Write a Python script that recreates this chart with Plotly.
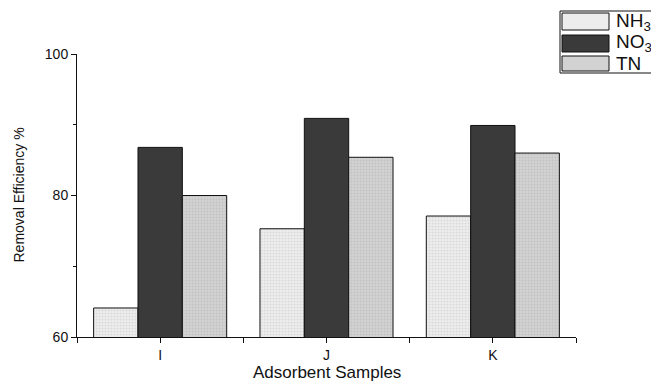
import plotly.graph_objects as go

categories = ["I", "J", "K"]
series_names = ["NH<sub>3</sub>", "NO<sub>3</sub>", "TN"]
nh3_values = [64.1, 75.3, 77.1]
no3_values = [86.8, 90.9, 89.9]
tn_values = [80.0, 85.4, 86.0]
y_ticks = [60, 80, 100]
x_title = "Adsorbent Samples"
y_title = "Removal Efficiency %"

series_values = [nh3_values, no3_values, tn_values]
fills = ["#ececec", "#3a3a3a", "#d2d2d2"]
pattern_shapes = [".", "", "+"]
pattern_fg = ["#d6d6d6", "#2e2e2e", "#bdbdbd"]

W, H = 651, 381
L, R, T, B = 77, 576, 54, 337

def px_x(p):
    return (p - L) / (R - L)

def px_y(p):
    return (B - p) / (B - T)

fig = go.Figure()
xs = list(range(len(categories)))
for name, vals, col, shp, fg in zip(series_names, series_values, fills, pattern_shapes, pattern_fg):
    fig.add_trace(go.Bar(
        x=xs, y=vals, name=name, showlegend=False, hoverinfo="skip",
        marker=dict(color=col, line=dict(color="#111111", width=1),
                    pattern=dict(shape=shp, size=3, solidity=0.25, fgcolor=fg, bgcolor=col, fillmode="replace") if shp else None),
    ))

tickvals = []
ticktext = []
for i, c in enumerate(categories):
    tickvals += [i - 0.5, i]
    ticktext += ["", c]
tickvals.append(len(categories) - 0.5)
ticktext.append("")

font_family = "Liberation Sans, Arial, sans-serif"
black = "#111111"

fig.update_layout(
    width=W, height=H,
    margin=dict(l=L, r=W - R, t=T, b=H - B, autoexpand=False),
    paper_bgcolor="white", plot_bgcolor="white",
    barmode="group", bargap=0.2, bargroupgap=0,
    font=dict(family=font_family, color=black),
    xaxis=dict(range=[-0.5, len(categories) - 0.5], tickmode="array", tickvals=tickvals, ticktext=ticktext,
               showline=True, linecolor=black, linewidth=1, ticks="outside", ticklen=5, tickcolor=black,
               showgrid=False, zeroline=False, tickfont=dict(size=14, color=black)),
    yaxis=dict(range=[60, 100], tickvals=y_ticks, showline=True, linecolor=black, linewidth=1,
               ticks="outside", ticklen=5, tickcolor=black, showgrid=False, zeroline=False,
               tickfont=dict(size=14, color=black),
               minor=dict(tickvals=[70, 90], ticks="outside", ticklen=3, tickcolor=black)),
)

# axis titles
fig.add_annotation(xref="paper", yref="paper", x=0.5, y=px_y(372), text=x_title, showarrow=False,
                   xanchor="center", yanchor="middle", font=dict(size=17, family=font_family, color=black))
fig.add_annotation(xref="paper", yref="paper", x=px_x(18), y=0.5, text=y_title, showarrow=False, textangle=-90,
                   xanchor="center", yanchor="middle", font=dict(size=14, family=font_family, color=black))

# manual legend box
fig.add_shape(type="rect", xref="paper", yref="paper",
              x0=px_x(560), x1=px_x(660), y0=px_y(73), y1=px_y(11),
              line=dict(color=black, width=1), fillcolor="white", layer="above")
rows = [(13, 30), (35, 52), (56, 71)]
for (y0, y1), name, col in zip(rows, series_names, fills):
    fig.add_shape(type="rect", xref="paper", yref="paper",
                  x0=px_x(562), x1=px_x(609), y0=px_y(y1), y1=px_y(y0),
                  line=dict(color=black, width=1), fillcolor=col, layer="above")
    fig.add_annotation(xref="paper", yref="paper", x=px_x(614), y=px_y((y0 + y1) / 2),
                       text=name, showarrow=False, xanchor="left", yanchor="middle",
                       font=dict(size=19, family=font_family, color=black))

fig.write_html("out.html", config={"displayModeBar": False},
               post_script="document.body.style.margin='0';document.body.style.overflow='hidden';")
